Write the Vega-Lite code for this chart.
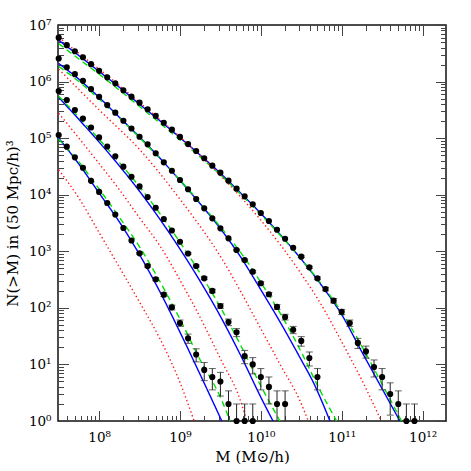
{
  "$schema": "https://vega.github.io/schema/vega-lite/v6.json",
  "width": 388,
  "height": 396,
  "autosize": "none",
  "padding": {"left": 58, "top": 25, "right": 25, "bottom": 50},
  "background": "white",
  "config": {
    "view": {"stroke": "#111", "strokeWidth": 1.5},
    "font": "DejaVu Serif",
    "axis": {"grid": false, "domain": false, "labelFont": "DejaVu Serif", "titleFont": "DejaVu Serif", "labelColor": "#000", "titleColor": "#000", "tickColor": "#444", "tickWidth": 1, "labelFlush": false, "labelOverlap": false}
  },
  "datasets": {
    "pts": [
      {"s":1,"m":3.162e7,"n":5.97e6},{"s":1,"m":3.981e7,"n":4.40e6},{"s":1,"m":5.012e7,"n":3.44e6},{"s":1,"m":6.31e7,"n":2.69e6},{"s":1,"m":7.943e7,"n":2.03e6},
      {"s":1,"m":1e8,"n":1.55e6},{"s":1,"m":1.259e8,"n":1.19e6},{"s":1,"m":1.585e8,"n":9.31e5},{"s":1,"m":1.995e8,"n":7.02e5},{"s":1,"m":2.512e8,"n":5.41e5},
      {"s":1,"m":3.162e8,"n":4.24e5},{"s":1,"m":3.981e8,"n":3.24e5},{"s":1,"m":5.012e8,"n":2.48e5},{"s":1,"m":6.31e8,"n":1.87e5},{"s":1,"m":7.943e8,"n":1.41e5},
      {"s":1,"m":1e9,"n":1.05e5},{"s":1,"m":1.259e9,"n":7.87e4},{"s":1,"m":1.585e9,"n":5.93e4},{"s":1,"m":1.995e9,"n":4.41e4},{"s":1,"m":2.512e9,"n":3.26e4},
      {"s":1,"m":3.162e9,"n":2.45e4},{"s":1,"m":3.981e9,"n":1.77e4},{"s":1,"m":5.012e9,"n":1.28e4},{"s":1,"m":6.31e9,"n":9376},{"s":1,"m":7.943e9,"n":6776},
      {"s":1,"m":1e10,"n":4753},{"s":1,"m":1.259e10,"n":3428},{"s":1,"m":1.585e10,"n":2404},{"s":1,"m":1.995e10,"n":1667},{"s":1,"m":2.512e10,"n":1156},
      {"s":1,"m":3.162e10,"n":802,"lo":774,"hi":830},{"s":1,"m":3.981e10,"n":521,"lo":498,"hi":544},{"s":1,"m":5.012e10,"n":333,"lo":315,"hi":351},
      {"s":1,"m":6.31e10,"n":215,"lo":200,"hi":230},{"s":1,"m":7.943e10,"n":134,"lo":122,"hi":146},{"s":1,"m":1e11,"n":85,"lo":76,"hi":94},
      {"s":1,"m":1.259e11,"n":54,"lo":47,"hi":61},{"s":1,"m":1.585e11,"n":24,"lo":19.1,"hi":28.9},{"s":1,"m":1.995e11,"n":17,"lo":12.9,"hi":21.1},
      {"s":1,"m":2.512e11,"n":9,"lo":6,"hi":12},{"s":1,"m":3.162e11,"n":6,"lo":3.55,"hi":8.45},{"s":1,"m":3.981e11,"n":3,"lo":1.27,"hi":4.73},
      {"s":1,"m":5.012e11,"n":2,"lo":0.59,"hi":3.41},{"s":1,"m":6.31e11,"n":1,"lo":0.01,"hi":2},{"s":1,"m":7.943e11,"n":1,"lo":0.01,"hi":2},

      {"s":2,"m":3.162e7,"n":2.56e6},{"s":2,"m":3.981e7,"n":1.79e6},{"s":2,"m":5.012e7,"n":1.35e6},{"s":2,"m":6.31e7,"n":1.03e6},{"s":2,"m":7.943e7,"n":7.40e5},
      {"s":2,"m":1e8,"n":5.38e5},{"s":2,"m":1.259e8,"n":3.84e5},{"s":2,"m":1.585e8,"n":2.82e5},{"s":2,"m":1.995e8,"n":2.03e5},{"s":2,"m":2.512e8,"n":1.48e5},
      {"s":2,"m":3.162e8,"n":1.06e5},{"s":2,"m":3.981e8,"n":7.78e4},{"s":2,"m":5.012e8,"n":5.40e4},{"s":2,"m":6.31e8,"n":3.74e4},{"s":2,"m":7.943e8,"n":2.65e4},
      {"s":2,"m":1e9,"n":1.82e4},{"s":2,"m":1.259e9,"n":1.25e4},{"s":2,"m":1.585e9,"n":8395},{"s":2,"m":1.995e9,"n":5754},{"s":2,"m":2.512e9,"n":3828},
      {"s":2,"m":3.162e9,"n":2547},{"s":2,"m":3.981e9,"n":1694},{"s":2,"m":5.012e9,"n":1054,"lo":1022,"hi":1086},{"s":2,"m":6.31e9,"n":701,"lo":675,"hi":728},
      {"s":2,"m":7.943e9,"n":436,"lo":415,"hi":457},{"s":2,"m":1e10,"n":272,"lo":256,"hi":289},{"s":2,"m":1.259e10,"n":174,"lo":161,"hi":187},
      {"s":2,"m":1.585e10,"n":104,"lo":94,"hi":114},{"s":2,"m":1.995e10,"n":69,"lo":61,"hi":77},{"s":2,"m":2.512e10,"n":41,"lo":35,"hi":47},
      {"s":2,"m":3.162e10,"n":26,"lo":21,"hi":31},{"s":2,"m":3.981e10,"n":13,"lo":9.4,"hi":16.6},{"s":2,"m":5.012e10,"n":6,"lo":3.55,"hi":8.45},

      {"s":3,"m":3.162e7,"n":6.81e5},{"s":3,"m":3.981e7,"n":4.72e5},{"s":3,"m":5.012e7,"n":3.14e5},{"s":3,"m":6.31e7,"n":2.22e5},{"s":3,"m":7.943e7,"n":1.54e5},
      {"s":3,"m":1e8,"n":1.03e5},{"s":3,"m":1.259e8,"n":7.11e4},{"s":3,"m":1.585e8,"n":4.78e4},{"s":3,"m":1.995e8,"n":3.13e4},{"s":3,"m":2.512e8,"n":2.08e4},
      {"s":3,"m":3.162e8,"n":1.40e4},{"s":3,"m":3.981e8,"n":9120},{"s":3,"m":5.012e8,"n":5888},{"s":3,"m":6.31e8,"n":3724},{"s":3,"m":7.943e8,"n":2328},
      {"s":3,"m":1e9,"n":1476},{"s":3,"m":1.259e9,"n":914,"lo":884,"hi":944},{"s":3,"m":1.585e9,"n":550,"lo":527,"hi":573},{"s":3,"m":1.995e9,"n":333,"lo":315,"hi":351},
      {"s":3,"m":2.512e9,"n":199,"lo":185,"hi":213},{"s":3,"m":3.162e9,"n":108,"lo":98,"hi":118},{"s":3,"m":3.981e9,"n":56,"lo":48.5,"hi":63.5},
      {"s":3,"m":5.012e9,"n":37,"lo":31,"hi":43},{"s":3,"m":6.31e9,"n":14,"lo":10.3,"hi":17.7},{"s":3,"m":7.943e9,"n":10,"lo":6.8,"hi":13.2},
      {"s":3,"m":1e10,"n":6,"lo":3.55,"hi":8.45},{"s":3,"m":1.259e10,"n":4,"lo":2,"hi":6},{"s":3,"m":1.585e10,"n":2,"lo":0.59,"hi":3.41},{"s":3,"m":1.995e10,"n":2,"lo":0.59,"hi":3.41},

      {"s":4,"m":3.162e7,"n":1.135e5},{"s":4,"m":3.981e7,"n":7.06e4},{"s":4,"m":5.012e7,"n":4.58e4},{"s":4,"m":6.31e7,"n":3.00e4},{"s":4,"m":7.943e7,"n":1.76e4},
      {"s":4,"m":1e8,"n":1.12e4},{"s":4,"m":1.259e8,"n":7129},{"s":4,"m":1.585e8,"n":4467},{"s":4,"m":1.995e8,"n":2582},{"s":4,"m":2.512e8,"n":1552},
      {"s":4,"m":3.162e8,"n":920,"lo":890,"hi":950},{"s":4,"m":3.981e8,"n":550,"lo":527,"hi":573},{"s":4,"m":5.012e8,"n":320,"lo":302,"hi":338},
      {"s":4,"m":6.31e8,"n":171,"lo":158,"hi":184},{"s":4,"m":7.943e8,"n":102,"lo":92,"hi":112},{"s":4,"m":1e9,"n":54,"lo":47,"hi":61},
      {"s":4,"m":1.259e9,"n":29,"lo":23.6,"hi":34.4},{"s":4,"m":1.585e9,"n":15,"lo":11.1,"hi":18.9},{"s":4,"m":1.995e9,"n":8,"lo":5.17,"hi":10.83},
      {"s":4,"m":2.512e9,"n":6,"lo":3.55,"hi":8.45},{"s":4,"m":3.162e9,"n":5,"lo":2.76,"hi":7.24},{"s":4,"m":3.981e9,"n":2,"lo":0.59,"hi":3.41},
      {"s":4,"m":5.012e9,"n":1,"lo":0.01,"hi":2},{"s":4,"m":6.31e9,"n":1,"lo":0.01,"hi":2},{"s":4,"m":7.943e9,"n":1,"lo":0.01,"hi":2}
    ],
    "curves": [
      {"s":1,"k":"b","m":3.162e7,"n":5.37e6},{"s":1,"k":"b","m":5.623e7,"n":2.88e6},{"s":1,"k":"b","m":1e8,"n":1.51e6},{"s":1,"k":"b","m":1.778e8,"n":7.94e5},
      {"s":1,"k":"b","m":3.162e8,"n":3.98e5},{"s":1,"k":"b","m":5.623e8,"n":2.04e5},{"s":1,"k":"b","m":1e9,"n":1.02e5},{"s":1,"k":"b","m":1.778e9,"n":5.01e4},
      {"s":1,"k":"b","m":3.162e9,"n":2.40e4},{"s":1,"k":"b","m":5.623e9,"n":1.07e4},{"s":1,"k":"b","m":1e10,"n":4677},{"s":1,"k":"b","m":1.778e10,"n":1905},
      {"s":1,"k":"b","m":3.162e10,"n":724},{"s":1,"k":"b","m":5.623e10,"n":251},{"s":1,"k":"b","m":1e11,"n":75.9},{"s":1,"k":"b","m":1.778e11,"n":16.6},
      {"s":1,"k":"b","m":3.162e11,"n":3.72},{"s":1,"k":"b","m":5.248e11,"n":1},

      {"s":1,"k":"g","m":3.162e7,"n":4.68e6},{"s":1,"k":"g","m":5.623e7,"n":2.51e6},{"s":1,"k":"g","m":1e8,"n":1.35e6},{"s":1,"k":"g","m":3.162e8,"n":3.63e5},
      {"s":1,"k":"g","m":1e9,"n":9.33e4},{"s":1,"k":"g","m":3.162e9,"n":2.24e4},{"s":1,"k":"g","m":1e10,"n":4467},{"s":1,"k":"g","m":3.162e10,"n":724},
      {"s":1,"k":"g","m":5.623e10,"n":263},{"s":1,"k":"g","m":1e11,"n":83.2},{"s":1,"k":"g","m":1.778e11,"n":20.9},{"s":1,"k":"g","m":3.162e11,"n":4.47},
      {"s":1,"k":"g","m":5.495e11,"n":1},

      {"s":1,"k":"r","m":3.162e7,"n":6.03e6},{"s":1,"k":"r","m":5.623e7,"n":3.16e6},{"s":1,"k":"r","m":1e8,"n":1.66e6},{"s":1,"k":"r","m":3.162e8,"n":4.27e5},
      {"s":1,"k":"r","m":1e9,"n":1.05e5},{"s":1,"k":"r","m":3.162e9,"n":2.19e4},{"s":1,"k":"r","m":1e10,"n":3548},{"s":1,"k":"r","m":1.778e10,"n":1259},
      {"s":1,"k":"r","m":3.162e10,"n":398},{"s":1,"k":"r","m":5.623e10,"n":112},{"s":1,"k":"r","m":1e11,"n":25.1},{"s":1,"k":"r","m":1.778e11,"n":5.25},
      {"s":1,"k":"r","m":3.09e11,"n":1},

      {"s":2,"k":"b","m":3.162e7,"n":2.09e6},{"s":2,"k":"b","m":5.623e7,"n":1.10e6},{"s":2,"k":"b","m":1e8,"n":5.25e5},{"s":2,"k":"b","m":1.778e8,"n":2.34e5},
      {"s":2,"k":"b","m":3.162e8,"n":1.05e5},{"s":2,"k":"b","m":5.623e8,"n":4.47e4},{"s":2,"k":"b","m":1e9,"n":1.78e4},{"s":2,"k":"b","m":1.778e9,"n":6918},
      {"s":2,"k":"b","m":3.162e9,"n":2512},{"s":2,"k":"b","m":5.623e9,"n":794},{"s":2,"k":"b","m":1e10,"n":209},{"s":2,"k":"b","m":1.778e10,"n":52.5},
      {"s":2,"k":"b","m":3.162e10,"n":12.0},{"s":2,"k":"b","m":4.467e10,"n":4.79},{"s":2,"k":"b","m":7.161e10,"n":1},

      {"s":2,"k":"g","m":3.162e7,"n":1.86e6},{"s":2,"k":"g","m":5.623e7,"n":1.0e6},{"s":2,"k":"g","m":1e8,"n":4.90e5},{"s":2,"k":"g","m":3.162e8,"n":1.02e5},
      {"s":2,"k":"g","m":1e9,"n":1.82e4},{"s":2,"k":"g","m":3.162e9,"n":2692},{"s":2,"k":"g","m":5.623e9,"n":955},{"s":2,"k":"g","m":1e10,"n":282},
      {"s":2,"k":"g","m":1.778e10,"n":75.9},{"s":2,"k":"g","m":3.162e10,"n":16.6},{"s":2,"k":"g","m":5.012e10,"n":4.27},{"s":2,"k":"g","m":8.65e10,"n":1},

      {"s":2,"k":"r","m":3.162e7,"n":1.66e6},{"s":2,"k":"r","m":1e8,"n":3.16e5},{"s":2,"k":"r","m":3.162e8,"n":6.31e4},{"s":2,"k":"r","m":1e9,"n":8318},
      {"s":2,"k":"r","m":3.162e9,"n":813},{"s":2,"k":"r","m":1e10,"n":42.7},{"s":2,"k":"r","m":1.778e10,"n":9.33},{"s":2,"k":"r","m":3.02e10,"n":2.34},
      {"s":2,"k":"r","m":3.864e10,"n":1},

      {"s":3,"k":"b","m":3.162e7,"n":5.25e5},{"s":3,"k":"b","m":5.623e7,"n":2.14e5},{"s":3,"k":"b","m":1e8,"n":8.51e4},{"s":3,"k":"b","m":1.778e8,"n":3.24e4},
      {"s":3,"k":"b","m":3.162e8,"n":1.15e4},{"s":3,"k":"b","m":5.623e8,"n":3715},{"s":3,"k":"b","m":1e9,"n":1096},{"s":3,"k":"b","m":1.778e9,"n":295},
      {"s":3,"k":"b","m":3.162e9,"n":70.8},{"s":3,"k":"b","m":5.623e9,"n":14.5},{"s":3,"k":"b","m":1e10,"n":2.63},{"s":3,"k":"b","m":1.413e10,"n":1},

      {"s":3,"k":"g","m":3.162e7,"n":5.50e5},{"s":3,"k":"g","m":5.623e7,"n":2.34e5},{"s":3,"k":"g","m":1e8,"n":9.55e4},{"s":3,"k":"g","m":1.778e8,"n":3.72e4},
      {"s":3,"k":"g","m":3.162e8,"n":1.38e4},{"s":3,"k":"g","m":5.623e8,"n":4677},{"s":3,"k":"g","m":1e9,"n":1445},{"s":3,"k":"g","m":1.778e9,"n":407},
      {"s":3,"k":"g","m":3.162e9,"n":102},{"s":3,"k":"g","m":5.623e9,"n":21.9},{"s":3,"k":"g","m":1e10,"n":4.17},{"s":3,"k":"g","m":1.726e10,"n":1},

      {"s":3,"k":"r","m":3.162e7,"n":2.75e5},{"s":3,"k":"r","m":5.623e7,"n":1.0e5},{"s":3,"k":"r","m":1e8,"n":3.55e4},{"s":3,"k":"r","m":1.778e8,"n":1.23e4},
      {"s":3,"k":"r","m":3.162e8,"n":3890},{"s":3,"k":"r","m":5.623e8,"n":1259},{"s":3,"k":"r","m":1e9,"n":309},{"s":3,"k":"r","m":1.778e9,"n":67.6},
      {"s":3,"k":"r","m":3.162e9,"n":12.6},{"s":3,"k":"r","m":5.623e9,"n":2.24},{"s":3,"k":"r","m":6.699e9,"n":1},

      {"s":4,"k":"b","m":3.162e7,"n":1.0e5},{"s":4,"k":"b","m":5.623e7,"n":3.47e4},{"s":4,"k":"b","m":1e8,"n":1.07e4},{"s":4,"k":"b","m":1.778e8,"n":3311},
      {"s":4,"k":"b","m":3.162e8,"n":871},{"s":4,"k":"b","m":5.623e8,"n":195},{"s":4,"k":"b","m":1e9,"n":37.2},{"s":4,"k":"b","m":1.778e9,"n":6.61},
      {"s":4,"k":"b","m":3.289e9,"n":1},

      {"s":4,"k":"g","m":3.162e7,"n":9.55e4},{"s":4,"k":"g","m":5.623e7,"n":3.80e4},{"s":4,"k":"g","m":1e8,"n":1.26e4},{"s":4,"k":"g","m":1.778e8,"n":3981},
      {"s":4,"k":"g","m":3.162e8,"n":1202},{"s":4,"k":"g","m":5.623e8,"n":295},{"s":4,"k":"g","m":1e9,"n":63.1},{"s":4,"k":"g","m":1.778e9,"n":12.0},
      {"s":4,"k":"g","m":3.162e9,"n":2.63},{"s":4,"k":"g","m":4.169e9,"n":1},

      {"s":4,"k":"r","m":3.162e7,"n":2.75e4},{"s":4,"k":"r","m":5.623e7,"n":8710},{"s":4,"k":"r","m":1e8,"n":2138},{"s":4,"k":"r","m":1.778e8,"n":525},
      {"s":4,"k":"r","m":3.162e8,"n":126},{"s":4,"k":"r","m":5.623e8,"n":28.8},{"s":4,"k":"r","m":1e9,"n":4.79},{"s":4,"k":"r","m":1.496e9,"n":1}
    ]
  },
  "layer": [
    {
      "data": {"name": "curves"},
      "mark": {"type": "line", "clip": true, "interpolate": "monotone", "strokeWidth": 1.4},
      "encoding": {
        "x": {"field": "m", "type": "quantitative", "scale": {"type": "log", "domain": [3.1e7, 1.95e12], "nice": false},
              "axis": {"orient": "bottom", "values": [1e8, 1e9, 1e10, 1e11, 1e12], "labels": false, "tickSize": -10.5, "title": null}},
        "y": {"field": "n", "type": "quantitative", "scale": {"type": "log", "domain": [1, 1e7], "nice": false},
              "axis": {"orient": "left", "values": [1, 10, 100, 1000, 10000, 100000, 1000000, 10000000], "labels": false, "tickSize": -10.5, "title": null}},
        "color": {"field": "k", "type": "nominal", "scale": {"domain": ["b", "g", "r"], "range": ["#0000ff", "#00e000", "#ff1a1a"]}, "legend": null},
        "strokeDash": {"field": "k", "type": "nominal", "scale": {"domain": ["b", "g", "r"], "range": [[1, 0], [6, 4], [1.4, 2.6]]}, "legend": null},
        "detail": {"field": "s"}
      }
    },
    {
      "data": {"name": "pts"},
      "transform": [{"filter": "isValid(datum.hi)"}],
      "mark": {"type": "rule", "clip": true, "color": "#222", "strokeWidth": 1},
      "encoding": {
        "x": {"field": "m", "type": "quantitative",
              "axis": {"orient": "bottom", "values": [4e7,5e7,6e7,7e7,8e7,9e7,2e8,3e8,4e8,5e8,6e8,7e8,8e8,9e8,2e9,3e9,4e9,5e9,6e9,7e9,8e9,9e9,2e10,3e10,4e10,5e10,6e10,7e10,8e10,9e10,2e11,3e11,4e11,5e11,6e11,7e11,8e11,9e11], "labels": false, "tickSize": -5.5, "title": null}},
        "y": {"field": "lo", "type": "quantitative",
              "axis": {"orient": "left", "values": [2,3,4,5,6,7,8,9,20,30,40,50,60,70,80,90,200,300,400,500,600,700,800,900,2000,3000,4000,5000,6000,7000,8000,9000,20000,30000,40000,50000,60000,70000,80000,90000,200000,300000,400000,500000,600000,700000,800000,900000,2000000,3000000,4000000,5000000,6000000,7000000,8000000,9000000], "labels": false, "tickSize": -5.5, "title": null}},
        "y2": {"field": "hi"}
      }
    },
    {
      "data": {"name": "pts"},
      "transform": [{"filter": "isValid(datum.hi)"}],
      "mark": {"type": "tick", "orient": "horizontal", "clip": true, "color": "#222", "size": 7, "thickness": 1},
      "encoding": {
        "x": {"field": "m", "type": "quantitative",
              "axis": {"orient": "top", "values": [1e8, 1e9, 1e10, 1e11, 1e12], "labels": false, "tickSize": -10.5, "title": null}},
        "y": {"field": "hi", "type": "quantitative",
              "axis": {"orient": "right", "values": [1, 10, 100, 1000, 10000, 100000, 1000000, 10000000], "labels": false, "tickSize": -10.5, "title": null}}
      }
    },
    {
      "data": {"name": "pts"},
      "transform": [{"filter": "isValid(datum.lo)"}],
      "mark": {"type": "tick", "orient": "horizontal", "clip": true, "color": "#222", "size": 7, "thickness": 1},
      "encoding": {
        "x": {"field": "m", "type": "quantitative",
              "axis": {"orient": "top", "values": [4e7,5e7,6e7,7e7,8e7,9e7,2e8,3e8,4e8,5e8,6e8,7e8,8e8,9e8,2e9,3e9,4e9,5e9,6e9,7e9,8e9,9e9,2e10,3e10,4e10,5e10,6e10,7e10,8e10,9e10,2e11,3e11,4e11,5e11,6e11,7e11,8e11,9e11], "labels": false, "tickSize": -5.5, "title": null}},
        "y": {"field": "lo", "type": "quantitative",
              "axis": {"orient": "right", "values": [2,3,4,5,6,7,8,9,20,30,40,50,60,70,80,90,200,300,400,500,600,700,800,900,2000,3000,4000,5000,6000,7000,8000,9000,20000,30000,40000,50000,60000,70000,80000,90000,200000,300000,400000,500000,600000,700000,800000,900000,2000000,3000000,4000000,5000000,6000000,7000000,8000000,9000000], "labels": false, "tickSize": -5.5, "title": null}}
      }
    },
    {
      "data": {"name": "pts"},
      "mark": {"type": "circle", "opacity": 1, "color": "#000", "size": 38},
      "encoding": {
        "x": {"field": "m", "type": "quantitative",
              "axis": {"orient": "bottom", "values": [1e8, 1e9, 1e10, 1e11, 1e12], "ticks": false, "labelFontSize": 13.5, "labelPadding": 9,
                       "labelExpr": "datum.value < 5e8 ? '10⁸' : datum.value < 5e9 ? '10⁹' : datum.value < 5e10 ? '10¹⁰' : datum.value < 5e11 ? '10¹¹' : '10¹²'",
                       "title": "M (M⊙/h)", "titleFontSize": 15, "titleFontWeight": "normal", "titlePadding": 6}},
        "y": {"field": "n", "type": "quantitative",
              "axis": {"orient": "left", "values": [1, 10, 100, 1000, 10000, 100000, 1000000, 10000000], "ticks": false, "labelFontSize": 13.5, "labelPadding": 7, "labelBaseline": "middle",
                       "labelExpr": "datum.value < 5 ? '10⁰' : datum.value < 50 ? '10¹' : datum.value < 500 ? '10²' : datum.value < 5000 ? '10³' : datum.value < 50000 ? '10⁴' : datum.value < 500000 ? '10⁵' : datum.value < 5000000 ? '10⁶' : '10⁷'",
                       "title": "N(>M) in (50 Mpc/h)³", "titleFontSize": 15, "titleFontWeight": "normal", "titlePadding": 8}}
      }
    }
  ],
  "resolve": {"axis": {"x": "independent", "y": "independent"}}
}
